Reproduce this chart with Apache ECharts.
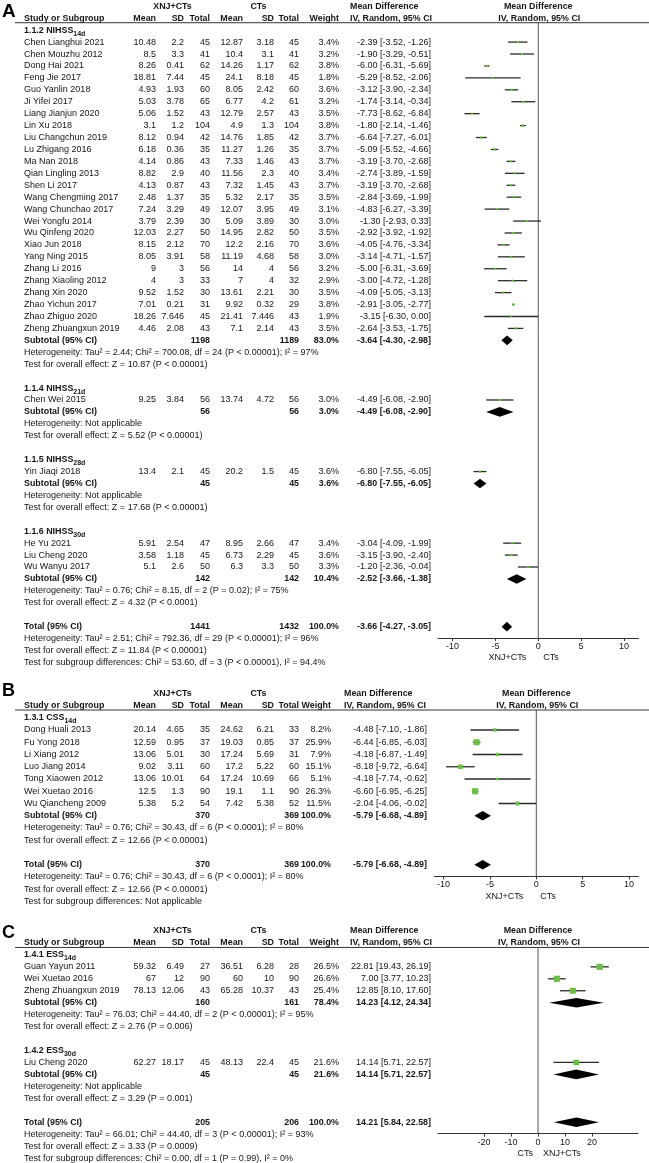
<!DOCTYPE html>
<html><head><meta charset="utf-8">
<script src="https://cdn.jsdelivr.net/npm/echarts@6/dist/echarts.min.js"></script>
<style>html,body{margin:0;padding:0;background:#fff}#c{width:649px;height:1163px}</style>
</head><body><div id="c"></div>
<script>
// ================= DATA =================
// study row: [name, expMean, expSD, expN, ctlMean, ctlSD, ctlN, weight%, MD, lower, upper]
const headerTop = ['XNJ+CTs', 'CTs', 'Mean Difference', 'Mean Difference'];
const headerCols = ['Study or Subgroup', 'Mean', 'SD', 'Total', 'Mean', 'SD', 'Total', 'Weight', 'IV, Random, 95% CI', 'IV, Random, 95% CI'];

// ---- Panel A ----
const A_groupLabels = [['1.1.2 NIHSS', '14d'], ['1.1.4 NIHSS', '21d'], ['1.1.5 NIHSS', '28d'], ['1.1.6 NIHSS', '30d']];
const A_studies112 = [
  ['Chen Lianghui 2021', 10.48, 2.2, 45, 12.87, 3.18, 45, 3.4, -2.39, -3.52, -1.26],
  ['Chen Mouzhu 2012', 8.5, 3.3, 41, 10.4, 3.1, 41, 3.2, -1.90, -3.29, -0.51],
  ['Dong Hai 2021', 8.26, 0.41, 62, 14.26, 1.17, 62, 3.8, -6.00, -6.31, -5.69],
  ['Feng Jie 2017', 18.81, 7.44, 45, 24.1, 8.18, 45, 1.8, -5.29, -8.52, -2.06],
  ['Guo Yanlin 2018', 4.93, 1.93, 60, 8.05, 2.42, 60, 3.6, -3.12, -3.90, -2.34],
  ['Ji Yifei 2017', 5.03, 3.78, 65, 6.77, 4.2, 61, 3.2, -1.74, -3.14, -0.34],
  ['Liang Jianjun 2020', 5.06, 1.52, 43, 12.79, 2.57, 43, 3.5, -7.73, -8.62, -6.84],
  ['Lin Xu 2018', 3.1, 1.2, 104, 4.9, 1.3, 104, 3.8, -1.80, -2.14, -1.46],
  ['Liu Changchun 2019', 8.12, 0.94, 42, 14.76, 1.85, 42, 3.7, -6.64, -7.27, -6.01],
  ['Lu Zhigang 2016', 6.18, 0.36, 35, 11.27, 1.26, 35, 3.7, -5.09, -5.52, -4.66],
  ['Ma Nan 2018', 4.14, 0.86, 43, 7.33, 1.46, 43, 3.7, -3.19, -3.70, -2.68],
  ['Qian Lingling 2013', 8.82, 2.9, 40, 11.56, 2.3, 40, 3.4, -2.74, -3.89, -1.59],
  ['Shen Li 2017', 4.13, 0.87, 43, 7.32, 1.45, 43, 3.7, -3.19, -3.70, -2.68],
  ['Wang Chengming 2017', 2.48, 1.37, 35, 5.32, 2.17, 35, 3.5, -2.84, -3.69, -1.99],
  ['Wang Chunchao 2017', 7.24, 3.29, 49, 12.07, 3.95, 49, 3.1, -4.83, -6.27, -3.39],
  ['Wei Yongfu 2014', 3.79, 2.39, 30, 5.09, 3.89, 30, 3.0, -1.30, -2.93, 0.33],
  ['Wu Qinfeng 2020', 12.03, 2.27, 50, 14.95, 2.82, 50, 3.5, -2.92, -3.92, -1.92],
  ['Xiao Jun 2018', 8.15, 2.12, 70, 12.2, 2.16, 70, 3.6, -4.05, -4.76, -3.34],
  ['Yang Ning 2015', 8.05, 3.91, 58, 11.19, 4.68, 58, 3.0, -3.14, -4.71, -1.57],
  ['Zhang Li 2016', 9, 3, 56, 14, 4, 56, 3.2, -5.00, -6.31, -3.69],
  ['Zhang Xiaoling 2012', 4, 3, 33, 7, 4, 32, 2.9, -3.00, -4.72, -1.28],
  ['Zhang Xin 2020', 9.52, 1.52, 30, 13.61, 2.21, 30, 3.5, -4.09, -5.05, -3.13],
  ['Zhao Yichun 2017', 7.01, 0.21, 31, 9.92, 0.32, 29, 3.8, -2.91, -3.05, -2.77],
  ['Zhao Zhiguo 2020', 18.26, 7.646, 45, 21.41, 7.446, 43, 1.9, -3.15, -6.30, 0.00],
  ['Zheng Zhuangxun 2019', 4.46, 2.08, 43, 7.1, 2.14, 43, 3.5, -2.64, -3.53, -1.75]
];
const A_studies114 = [['Chen Wei 2015', 9.25, 3.84, 56, 13.74, 4.72, 56, 3.0, -4.49, -6.08, -2.90]];
const A_studies115 = [['Yin Jiaqi 2018', 13.4, 2.1, 45, 20.2, 1.5, 45, 3.6, -6.80, -7.55, -6.05]];
const A_studies116 = [
  ['He Yu 2021', 5.91, 2.54, 47, 8.95, 2.66, 47, 3.4, -3.04, -4.09, -1.99],
  ['Liu Cheng 2020', 3.58, 1.18, 45, 6.73, 2.29, 45, 3.6, -3.15, -3.90, -2.40],
  ['Wu Wanyu 2017', 5.1, 2.6, 50, 6.3, 3.3, 50, 3.3, -1.20, -2.36, -0.04]
];
// subtotal: [expN, ctlN, weight%, MD, lower, upper]
const A_subtotals = [
  [1198, 1189, 83.0, -3.64, -4.30, -2.98],
  [56, 56, 3.0, -4.49, -6.08, -2.90],
  [45, 45, 3.6, -6.80, -7.55, -6.05],
  [142, 142, 10.4, -2.52, -3.66, -1.38]
];
const A_heterogeneity = [
  'Heterogeneity: Tau² = 2.44; Chi² = 700.08, df = 24 (P < 0.00001); I² = 97%',
  'Heterogeneity: Not applicable',
  'Heterogeneity: Not applicable',
  'Heterogeneity: Tau² = 0.76; Chi² = 8.15, df = 2 (P = 0.02); I² = 75%'
];
const A_overall = [
  'Test for overall effect: Z = 10.87 (P < 0.00001)',
  'Test for overall effect: Z = 5.52 (P < 0.00001)',
  'Test for overall effect: Z = 17.68 (P < 0.00001)',
  'Test for overall effect: Z = 4.32 (P < 0.0001)'
];
const A_total = [1441, 1432, 100.0, -3.66, -4.27, -3.05];
const A_totalNotes = [
  'Heterogeneity: Tau² = 2.51; Chi² = 792.36, df = 29 (P < 0.00001); I² = 96%',
  'Test for overall effect: Z = 11.84 (P < 0.00001)',
  'Test for subgroup differences: Chi² = 53.60, df = 3 (P < 0.00001), I² = 94.4%'
];
const A_ticks = [-10, -5, 0, 5, 10];
const A_axisNames = ['XNJ+CTs', 'CTs'];

// ---- Panel B ----
const B_groupLabels = [['1.3.1 CSS', '14d']];
const B_studies131 = [
  ['Dong Huali 2013', 20.14, 4.65, 35, 24.62, 6.21, 33, 8.2, -4.48, -7.10, -1.86],
  ['Fu Yong 2018', 12.59, 0.95, 37, 19.03, 0.85, 37, 25.9, -6.44, -6.85, -6.03],
  ['Li Xiang 2012', 13.06, 5.01, 30, 17.24, 5.69, 31, 7.9, -4.18, -6.87, -1.49],
  ['Luo Jiang 2014', 9.02, 3.11, 60, 17.2, 5.22, 60, 15.1, -8.18, -9.72, -6.64],
  ['Tong Xiaowen 2012', 13.06, 10.01, 64, 17.24, 10.69, 66, 5.1, -4.18, -7.74, -0.62],
  ['Wei Xuetao 2016', 12.5, 1.3, 90, 19.1, 1.1, 90, 26.3, -6.60, -6.95, -6.25],
  ['Wu Qiancheng 2009', 5.38, 5.2, 54, 7.42, 5.38, 52, 11.5, -2.04, -4.06, -0.02]
];
const B_subtotals = [[370, 369, 100.0, -5.79, -6.68, -4.89]];
const B_heterogeneity = ['Heterogeneity: Tau² = 0.76; Chi² = 30.43, df = 6 (P < 0.0001); I² = 80%'];
const B_overall = ['Test for overall effect: Z = 12.66 (P < 0.00001)'];
const B_total = [370, 369, 100.0, -5.79, -6.68, -4.89];
const B_totalNotes = [
  'Heterogeneity: Tau² = 0.76; Chi² = 30.43, df = 6 (P < 0.0001); I² = 80%',
  'Test for overall effect: Z = 12.66 (P < 0.00001)',
  'Test for subgroup differences: Not applicable'
];
const B_ticks = [-10, -5, 0, 5, 10];
const B_axisNames = ['XNJ+CTs', 'CTs'];

// ---- Panel C ----
const C_groupLabels = [['1.4.1 ESS', '14d'], ['1.4.2 ESS', '30d']];
const C_studies141 = [
  ['Guan Yayun 2011', 59.32, 6.49, 27, 36.51, 6.28, 28, 26.5, 22.81, 19.43, 26.19],
  ['Wei Xuetao 2016', 67, 12, 90, 60, 10, 90, 26.6, 7.00, 3.77, 10.23],
  ['Zheng Zhuangxun 2019', 78.13, 12.06, 43, 65.28, 10.37, 43, 25.4, 12.85, 8.10, 17.60]
];
const C_studies142 = [['Liu Cheng 2020', 62.27, 18.17, 45, 48.13, 22.4, 45, 21.6, 14.14, 5.71, 22.57]];
const C_subtotals = [
  [160, 161, 78.4, 14.23, 4.12, 24.34],
  [45, 45, 21.6, 14.14, 5.71, 22.57]
];
const C_heterogeneity = [
  'Heterogeneity: Tau² = 76.03; Chi² = 44.40, df = 2 (P < 0.00001); I² = 95%',
  'Heterogeneity: Not applicable'
];
const C_overall = [
  'Test for overall effect: Z = 2.76 (P = 0.006)',
  'Test for overall effect: Z = 3.29 (P = 0.001)'
];
const C_total = [205, 206, 100.0, 14.21, 5.84, 22.58];
const C_totalNotes = [
  'Heterogeneity: Tau² = 66.01; Chi² = 44.40, df = 3 (P < 0.00001); I² = 93%',
  'Test for overall effect: Z = 3.33 (P = 0.0009)',
  'Test for subgroup differences: Chi² = 0.00, df = 1 (P = 0.99), I² = 0%'
];
const C_ticks = [-20, -10, 0, 10, 20];
const C_axisNames = ['CTs', 'XNJ+CTs'];

// ================= LAYOUT =================
const FONT = '"Liberation Sans", Arial, Helvetica, sans-serif';
const TXT = '#151515';
const FS_REG = 9, FS_BOLD = 8.9;
const COL = { name: 24, m1: 156, sd1: 184, n1: 210, m2: 243, sd2: 274, n2: 299, expHead: 172.5, ctlHead: 258.5 };
const panels = [
  { letter: 'A', letterY: 12, letterSize: 19, y0: 6.3, pitch: 11.93, gridLeft: 438, gridRight: 10.5, xmin: -11.7, xmax: 11.7,
    weightX: 339, ciX: 431, ciHeadX: 350, nameOff: [-12, 5],
    groups: [A_studies112, A_studies114, A_studies115, A_studies116], labels: A_groupLabels, subs: A_subtotals,
    het: A_heterogeneity, tests: A_overall, total: A_total, totalNotes: A_totalNotes, ticks: A_ticks, axisNames: A_axisNames },
  { letter: 'B', letterY: 691, letterSize: 18, y0: 693.25, pitch: 12.25, gridLeft: 434.3, gridRight: 10.7, xmin: -11, xmax: 11,
    weightX: 331, ciX: 427, ciHeadX: 344, nameOff: [-13, 4],
    groups: [B_studies131], labels: B_groupLabels, subs: B_subtotals,
    het: B_heterogeneity, tests: B_overall, total: B_total, totalNotes: B_totalNotes, ticks: B_ticks, axisNames: B_axisNames },
  { letter: 'C', letterY: 933, letterSize: 18, y0: 931, pitch: 11.95, gridLeft: 438, gridRight: 11, xmin: -37, xmax: 37,
    weightX: 339, ciX: 431, ciHeadX: 350, nameOff: [-5, 5],
    groups: [C_studies141, C_studies142], labels: C_groupLabels, subs: C_subtotals,
    het: C_heterogeneity, tests: C_overall, total: C_total, totalNotes: C_totalNotes, ticks: C_ticks, axisNames: C_axisNames }
];

const mctx = document.createElement('canvas').getContext('2d');
function measure(t, font) { mctx.font = font; return mctx.measureText(t).width; }
const f2 = v => v.toFixed(2);
const ciText = (m, l, h) => f2(m) + ' [' + f2(l) + ', ' + f2(h) + ']';

function buildPanel(P) {
  const rows = [], cis = [], dias = [];
  let line = 0;
  rows.push({ line: line++, cells: [
    { t: headerTop[0], x: COL.expHead, a: 'center', b: true },
    { t: headerTop[1], x: COL.ctlHead, a: 'center', b: true },
    { t: headerTop[2], x: P.ciHeadX, b: true },
    { t: headerTop[3], zero: 0, a: 'center', b: true }
  ] });
  const hx = [COL.name, COL.m1, COL.sd1, COL.n1, COL.m2, COL.sd2, COL.n2, P.weightX, P.ciHeadX];
  const hc = headerCols.slice(0, 9).map((t, i) => ({ t, x: hx[i], a: (i === 0 || i === 8) ? 'left' : 'right', b: true }));
  hc.push({ t: headerCols[9], zero: 1, a: 'center', b: true });
  rows.push({ line: line++, rule: true, cells: hc });
  P.groups.forEach((studies, gi) => {
    rows.push({ line: line++, cells: [{ t: P.labels[gi][0], sub: P.labels[gi][1], x: COL.name, b: true }] });
    studies.forEach(s => {
      rows.push({ line, cells: [
        { t: s[0], x: COL.name },
        { t: String(s[1]), x: COL.m1, a: 'right' }, { t: String(s[2]), x: COL.sd1, a: 'right' }, { t: String(s[3]), x: COL.n1, a: 'right' },
        { t: String(s[4]), x: COL.m2, a: 'right' }, { t: String(s[5]), x: COL.sd2, a: 'right' }, { t: String(s[6]), x: COL.n2, a: 'right' },
        { t: s[7].toFixed(1) + '%', x: P.weightX, a: 'right' },
        { t: ciText(s[8], s[9], s[10]), x: P.ciX, a: 'right' }
      ] });
      cis.push([s[8], s[9], s[10], line, s[7]]);
      line++;
    });
    const st = P.subs[gi];
    rows.push({ line, cells: [
      { t: 'Subtotal (95% CI)', x: COL.name, b: true },
      { t: String(st[0]), x: COL.n1, a: 'right', b: true }, { t: String(st[1]), x: COL.n2, a: 'right', b: true },
      { t: st[2].toFixed(1) + '%', x: P.weightX, a: 'right', b: true },
      { t: ciText(st[3], st[4], st[5]), x: P.ciX, a: 'right', b: true }
    ] });
    dias.push([st[3], st[4], st[5], line]);
    line++;
    rows.push({ line: line++, cells: [{ t: P.het[gi], x: COL.name }] });
    rows.push({ line: line++, cells: [{ t: P.tests[gi], x: COL.name }] });
    line++;
  });
  const T = P.total;
  rows.push({ line, cells: [
    { t: 'Total (95% CI)', x: COL.name, b: true },
    { t: String(T[0]), x: COL.n1, a: 'right', b: true }, { t: String(T[1]), x: COL.n2, a: 'right', b: true },
    { t: T[2].toFixed(1) + '%', x: P.weightX, a: 'right', b: true },
    { t: ciText(T[3], T[4], T[5]), x: P.ciX, a: 'right', b: true }
  ] });
  dias.push([T[3], T[4], T[5], line]);
  const totalLine = line;
  line++;
  P.totalNotes.forEach(n => rows.push({ line: line++, cells: [{ t: n, x: COL.name }] }));
  const axisLine = totalLine + 0.95;
  rows.push({ line: axisLine + 1.65, cells: [
    { t: P.axisNames[0], zero: P.nameOff[0], a: 'right' },
    { t: P.axisNames[1], zero: P.nameOff[1], a: 'left' }
  ] });
  const topPx = P.y0 + P.pitch + 4.5;
  const yMin = 1 + 4.5 / P.pitch;
  const bottomPx = P.y0 + P.pitch * axisLine;
  return { rows, cis, dias, axisLine, topPx, yMin, bottomPx };
}

const grids = [], xAxes = [], yAxes = [], series = [], graphics = [];
panels.forEach((P, i) => {
  const B = buildPanel(P);
  grids.push({ left: P.gridLeft, right: P.gridRight, top: B.topPx, height: B.bottomPx - B.topPx, containLabel: false, outerBoundsMode: 'none' });
  xAxes.push({ gridIndex: i, type: 'value', min: P.xmin, max: P.xmax,
    axisLine: { onZero: false, lineStyle: { color: '#333', width: 1 } },
    axisTick: { customValues: P.ticks, length: 3, lineStyle: { color: '#333', width: 1 } },
    axisLabel: { customValues: P.ticks, fontSize: 9, color: TXT, fontFamily: FONT, margin: 4 },
    splitLine: { show: false } });
  yAxes.push({ gridIndex: i, type: 'value', min: B.yMin, max: B.axisLine, inverse: true, show: false, splitLine: { show: false } });
  // zero line
  series.push({ type: 'line', xAxisIndex: i, yAxisIndex: i, data: [[0, B.yMin], [0, B.axisLine]], symbol: 'none', silent: true,
    lineStyle: { color: '#555', width: 1 }, z: 1 });
  // table text
  const rows = B.rows;
  series.push({ type: 'custom', xAxisIndex: i, yAxisIndex: i, silent: true, z: 3,
    data: rows.map(r => [0, r.line]),
    renderItem: function (params, api) {
      const r = rows[params.dataIndex];
      const p = api.coord([0, api.value(1)]);
      const children = [];
      r.cells.forEach(c => {
        const x = c.zero != null ? p[0] + c.zero : c.x;
        const font = (c.b ? 'bold ' + FS_BOLD : FS_REG) + 'px ' + FONT;
        const al = c.a || 'left';
        children.push({ type: 'text', style: { text: c.t, x: x, y: p[1], font: font, fill: TXT,
          textAlign: al, textVerticalAlign: 'middle' } });
        if (c.sub) {
          const w = measure(c.t, font);
          children.push({ type: 'text', style: { text: c.sub, x: x + w, y: p[1] + 3.6, font: 'bold 7px ' + FONT, fill: TXT,
            textAlign: 'left', textVerticalAlign: 'middle' } });
        }
      });
      if (r.rule) {
        const yt = api.coord([0, B.yMin])[1];
        children.push({ type: 'line', shape: { x1: 15, y1: yt, x2: 649, y2: yt }, style: { stroke: '#333', lineWidth: 1 } });
      }
      return { type: 'group', children };
    } });
  // study CIs + squares
  series.push({ type: 'custom', xAxisIndex: i, yAxisIndex: i, silent: true, z: 4,
    data: B.cis, encode: { x: [0, 1, 2], y: 3 },
    renderItem: function (params, api) {
      const ln = api.value(3), w = api.value(4);
      const pl = api.coord([api.value(1), ln]), ph = api.coord([api.value(2), ln]), pm = api.coord([api.value(0), ln]);
      const s = Math.max(2, 12 * Math.sqrt(w / 100));
      return { type: 'group', children: [
        { type: 'line', shape: { x1: pl[0], y1: pl[1], x2: ph[0], y2: ph[1] }, style: { stroke: '#2a2a2a', lineWidth: 1.3 } },
        { type: 'rect', shape: { x: pm[0] - s / 2, y: pm[1] - s / 2, width: s, height: s }, style: { fill: '#6cbf45' } }
      ] };
    } });
  // diamonds
  series.push({ type: 'custom', xAxisIndex: i, yAxisIndex: i, silent: true, z: 4,
    data: B.dias, encode: { x: [0, 1, 2], y: 3 },
    renderItem: function (params, api) {
      const ln = api.value(3);
      const pl = api.coord([api.value(1), ln]), ph = api.coord([api.value(2), ln]), pm = api.coord([api.value(0), ln]);
      const h = 4.8;
      return { type: 'polygon', shape: { points: [[pl[0], pl[1]], [pm[0], pm[1] - h], [ph[0], ph[1]], [pm[0], pm[1] + h]] },
        style: { fill: '#000' } };
    } });
  graphics.push({ type: 'text', x: 2, y: P.letterY, style: { text: P.letter, font: 'bold ' + P.letterSize + 'px ' + FONT,
    fill: '#000', textVerticalAlign: 'middle', verticalAlign: 'middle' } });
});

const chart = echarts.init(document.getElementById('c'), null, { renderer: 'canvas' });
chart.setOption({ animation: false, backgroundColor: '#fff', grid: grids, xAxis: xAxes, yAxis: yAxes, series, graphic: graphics });
</script></body></html>
